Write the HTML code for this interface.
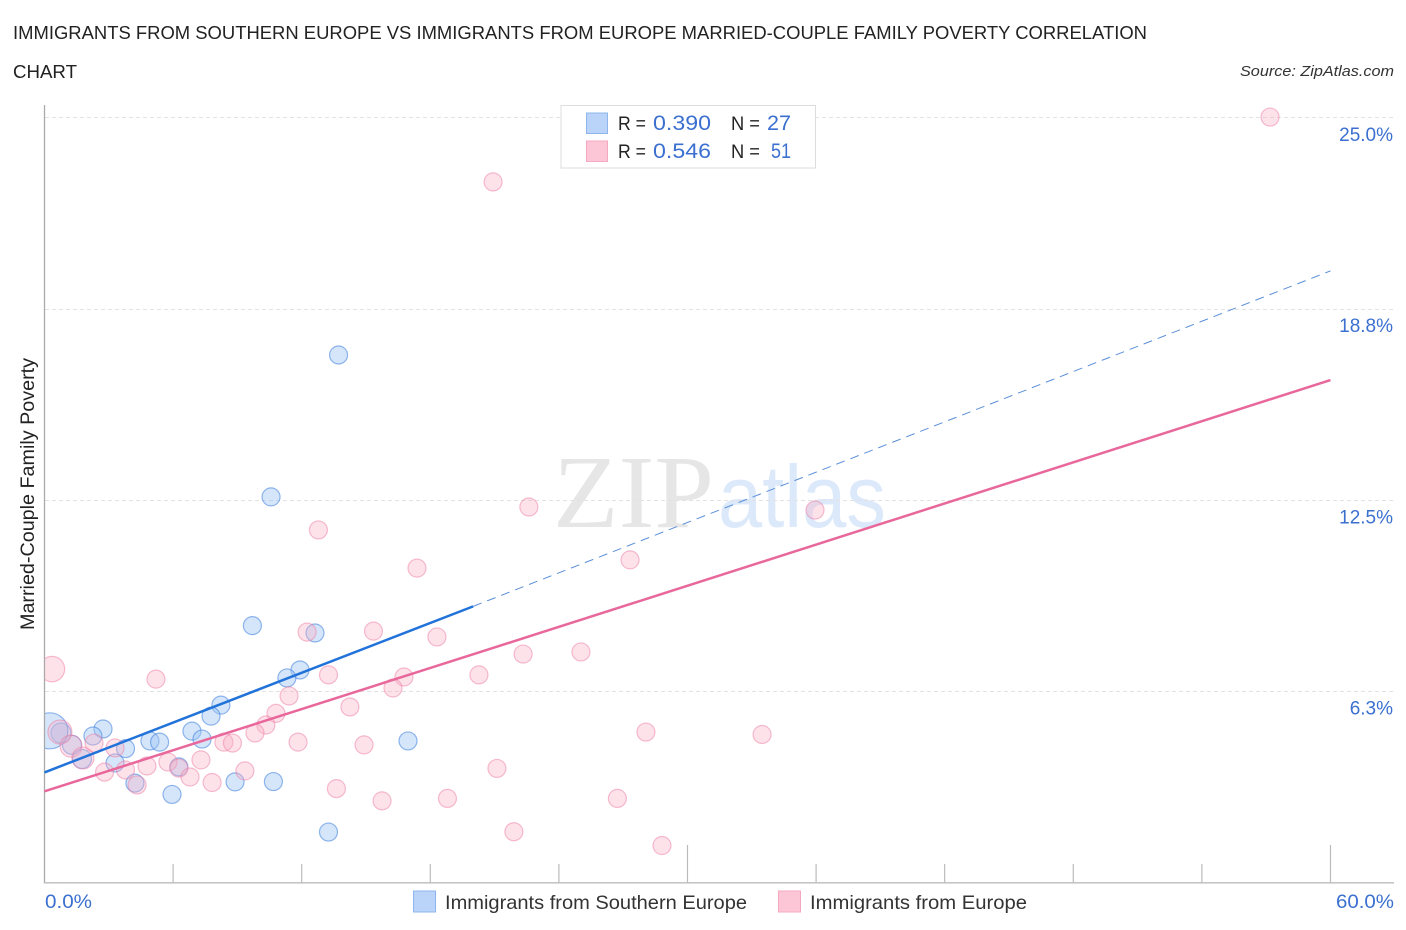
<!DOCTYPE html>
<html lang="en">
<head>
<meta charset="utf-8">
<title>Married-Couple Family Poverty Correlation Chart</title>
<style>
html,body{margin:0;padding:0;background:#fff;width:1406px;height:930px;overflow:hidden}
svg{display:block;font-family:"Liberation Sans",sans-serif}
</style>
</head>
<body>
<svg id="chart" width="1406" height="930" viewBox="0 0 1406 930" xmlns="http://www.w3.org/2000/svg">
  <defs>
    <clipPath id="plot-clip"><rect x="45" y="100" width="1340" height="783"/></clipPath>
  </defs>
  <text x="13" y="39" font-size="18.5" fill="#222" textLength="1134" lengthAdjust="spacingAndGlyphs">IMMIGRANTS FROM SOUTHERN EUROPE VS IMMIGRANTS FROM EUROPE MARRIED-COUPLE FAMILY POVERTY CORRELATION</text>
  <text x="13" y="78" font-size="18.5" fill="#222" textLength="64" lengthAdjust="spacingAndGlyphs">CHART</text>
  <text x="1394" y="76" font-size="15" font-style="italic" fill="#333" text-anchor="end" textLength="154" lengthAdjust="spacingAndGlyphs">Source: ZipAtlas.com</text>

  <g>
    <text x="553" y="527" font-family="'Liberation Serif',serif" font-size="104" fill="#e6e6e6" textLength="161" lengthAdjust="spacingAndGlyphs">ZIP</text>
    <text x="718" y="527" font-size="88" fill="#dce9fb" textLength="168" lengthAdjust="spacingAndGlyphs">atlas</text>
  </g>

  <g id="grid"></g>
  <g id="axes"></g>
  <g id="blue-points" clip-path="url(#plot-clip)"></g>
  <g id="pink-points" clip-path="url(#plot-clip)"></g>
  <g id="trends"></g>
  <g id="y-labels"></g>

  <text transform="translate(34,494) rotate(-90)" font-size="19" fill="#222" text-anchor="middle" textLength="272" lengthAdjust="spacingAndGlyphs">Married-Couple Family Poverty</text>
  <text x="45" y="908" font-size="19" fill="#3b70d0" textLength="47" lengthAdjust="spacingAndGlyphs">0.0%</text>
  <text x="1394" y="908" font-size="19" fill="#3b70d0" text-anchor="end" textLength="58" lengthAdjust="spacingAndGlyphs">60.0%</text>

  <g>
    <rect x="561" y="105.5" width="254.5" height="62.5" fill="#fff" stroke="#ddd" stroke-width="1"/>
    <rect x="586.5" y="113" width="21" height="20.5" fill="#b9d3f9" stroke="#8fb6ec" stroke-width="1"/>
    <text x="618" y="130" font-size="19" fill="#222" textLength="28" lengthAdjust="spacingAndGlyphs">R =</text>
    <text x="653" y="130" font-size="21" fill="#3b70d0" textLength="58" lengthAdjust="spacingAndGlyphs">0.390</text>
    <text x="731" y="130" font-size="19" fill="#222" textLength="29" lengthAdjust="spacingAndGlyphs">N =</text>
    <text x="767" y="130" font-size="21" fill="#3b70d0" textLength="24" lengthAdjust="spacingAndGlyphs">27</text>
    <rect x="586.5" y="141" width="21" height="20.5" fill="#fdc6d7" stroke="#f5a9c0" stroke-width="1"/>
    <text x="618" y="158" font-size="19" fill="#222" textLength="28" lengthAdjust="spacingAndGlyphs">R =</text>
    <text x="653" y="158" font-size="21" fill="#3b70d0" textLength="58" lengthAdjust="spacingAndGlyphs">0.546</text>
    <text x="731" y="158" font-size="19" fill="#222" textLength="29" lengthAdjust="spacingAndGlyphs">N =</text>
    <text x="771" y="158" font-size="21" fill="#3b70d0" textLength="20" lengthAdjust="spacingAndGlyphs">51</text>
  </g>

  <g>
    <rect x="413.5" y="891" width="22" height="21" fill="#b9d3f9" stroke="#8fb6ec" stroke-width="1"/>
    <text x="445" y="909" font-size="19.5" fill="#333" textLength="302" lengthAdjust="spacingAndGlyphs">Immigrants from Southern Europe</text>
    <rect x="778.5" y="891" width="22" height="21" fill="#fdc6d7" stroke="#f5a9c0" stroke-width="1"/>
    <text x="810" y="909" font-size="19.5" fill="#333" textLength="217" lengthAdjust="spacingAndGlyphs">Immigrants from Europe</text>
  </g>
</svg>
<script>
const yTicks = [6.25, 12.5, 18.75, 25];
const yTickLabels = ["6.3%", "12.5%", "18.8%", "25.0%"];
const xTicks = [0, 6, 12, 18, 24, 30, 36, 42, 48, 54, 60];
const xTickMajor = [0, 30, 60];

const blueX = [13.72,10.57,9.70,12.62,11.92,11.31,8.23,7.77,6.88,2.73,2.26,7.35,4.92,5.37,3.78,16.96,1.28,0.77,1.75,3.29,6.27,4.22,5.95,8.89,10.68,13.25,0.25];
const blueY = [17.25,12.61,8.40,8.16,6.95,6.69,5.80,5.44,4.95,5.02,4.79,4.69,4.63,4.59,4.38,4.63,4.50,4.89,4.04,3.91,3.78,3.25,2.88,3.29,3.30,1.65,4.96];
const blueSize = [9,9,9,9,9,9,9,9,9,9,9,9,9,9,9,9,9.5,10,9.5,9,9,9,9,9,9,9,18];

const pinkX = [57.18,20.93,22.6,35.95,12.78,27.32,17.38,12.25,15.35,18.31,22.33,25.03,0.35,5.2,13.25,20.27,16.77,16.26,11.41,14.25,10.8,10.33,9.82,8.37,8.77,11.83,14.91,28.06,33.48,0.72,1.24,1.79,2.31,3.29,2.8,3.78,4.78,5.76,6.27,7.3,6.79,7.82,9.35,4.32,21.11,13.62,15.75,18.8,26.73,21.9,28.81];
const pinkY = [25.03,22.91,12.28,12.18,11.53,10.55,10.28,8.19,8.22,8.03,7.47,7.54,6.98,6.65,6.79,6.79,6.72,6.36,6.10,5.74,5.53,5.15,4.89,4.59,4.56,4.59,4.50,4.92,4.84,4.92,4.46,4.07,4.56,4.40,3.61,3.68,3.81,3.94,3.74,4.01,3.45,3.27,3.65,3.19,3.73,3.07,2.67,2.75,2.75,1.66,1.21];
const pinkSize = [9,9,9,9,9,9,9,9,9,9,9,9,12.7,9,9,9,9,9,9,9,9,9,9,9,9,9,9,9,9,12,11,11,9,9,9,9,9,9,9,9,9,9,9,9,9,9,9,9,9,9,9];

const blueTrendX = [0, 20, 60];
const blueTrendY = [3.6, 9.03, 20.0];
const pinkTrendX = [0, 60];
const pinkTrendY = [2.98, 16.43];

const NS = "http://www.w3.org/2000/svg";
function xScale(v){ return 44.5 + v * 21.433; }
function yScale(v){ return 882.5 - v * 30.58; }
function mk(parent, tag, attrs){
  const el = document.createElementNS(NS, tag);
  for (const k in attrs) el.setAttribute(k, attrs[k]);
  document.getElementById(parent).appendChild(el);
  return el;
}

yTicks.forEach(function(t, i){
  const gy = Math.floor(yScale(t) - 0.1) + 0.5;
  const g = mk("grid", "line", {x1: 45, x2: 1393, y1: gy, y2: gy, stroke: "#e2e2e2", "stroke-width": 1, "stroke-dasharray": "4 3"});
  
  
  const l = mk("y-labels", "text", {x: 1393, y: yScale(t) + 23, "font-size": 19, fill: "#3b70d0", "text-anchor": "end"});
  
  
  l.textContent = yTickLabels[i];
});

const yAxis = mk("axes", "line", {x1: 44.5, x2: 44.5, y1: 105, y2: 883, stroke: "#aaa", "stroke-width": 1.3});


const xAxis = mk("axes", "line", {x1: 44, x2: 1394, y1: 882.8, y2: 882.8, stroke: "#bbb", "stroke-width": 1.4});


xTicks.forEach(function(t){
  if (t === 0) return;
  const top = xTickMajor.indexOf(t) >= 0 ? 845 : 864;
  const tick = mk("axes", "line", {x1: xScale(t), x2: xScale(t), y1: top, y2: 883, stroke: "#bbb", "stroke-width": 1.2});
  
  
});

function drawPoints(parent, xs, ys, sizes, fill, stroke){
  xs.forEach(function(x, i){
    const c = mk(parent, "circle", {cx: xScale(x), cy: yScale(ys[i]), r: sizes[i], fill: fill, stroke: stroke, "stroke-width": 1.2});
    
    
  });
}
drawPoints("blue-points", blueX, blueY, blueSize, "rgba(155,195,243,0.42)", "rgba(60,125,220,0.55)");
drawPoints("pink-points", pinkX, pinkY, pinkSize, "rgba(250,175,198,0.36)", "rgba(236,120,160,0.48)");

const blueSolid = mk("trends", "line", {x1: xScale(blueTrendX[0]), y1: yScale(blueTrendY[0]), x2: xScale(blueTrendX[1]), y2: yScale(blueTrendY[1]), stroke: "#2273d9", "stroke-width": 2.5});


const blueDash = mk("trends", "line", {x1: xScale(blueTrendX[1]), y1: yScale(blueTrendY[1]), x2: xScale(blueTrendX[2]), y2: yScale(blueTrendY[2]), stroke: "#5b8fd8", "stroke-width": 1, "stroke-dasharray": "9 6"});


const pinkSolid = mk("trends", "line", {x1: xScale(pinkTrendX[0]), y1: yScale(pinkTrendY[0]), x2: xScale(pinkTrendX[1]), y2: yScale(pinkTrendY[1]), stroke: "#e8689b", "stroke-width": 2.5});


</script>
</body>
</html>
